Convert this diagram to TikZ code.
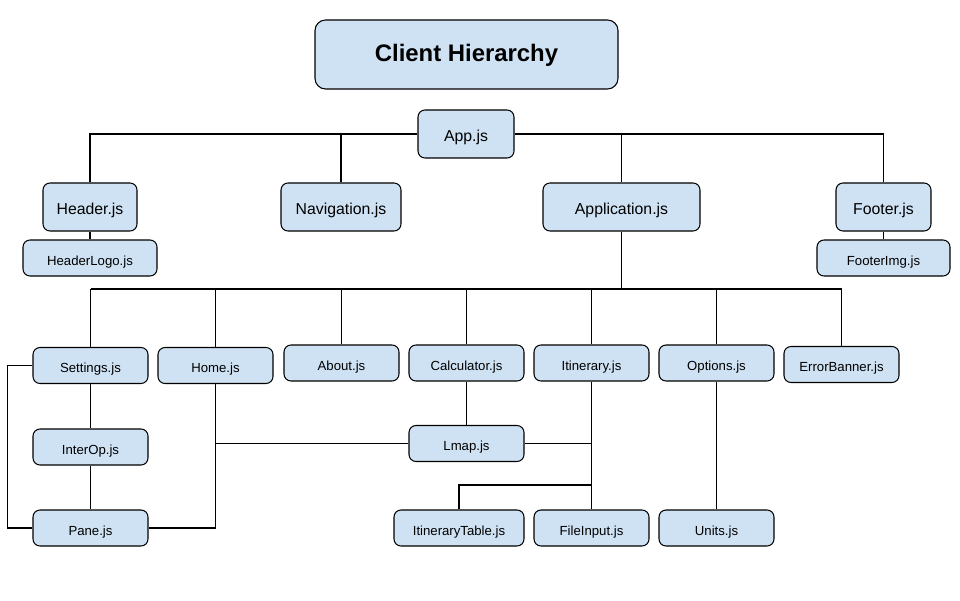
\documentclass[tikz,border=0pt]{standalone}
\usepackage{fontspec}
\setmainfont{Liberation Sans}
\usepackage{tikz}
\usepackage{xcolor}
\definecolor{boxblue}{RGB}{207,226,243}
\tikzset{box/.style={draw=black, fill=boxblue, rounded corners=4pt, line width=0.6pt, inner sep=0pt, text height=1em, text depth=0.2em},
 bigbox/.style={box, minimum height=0.96cm, font=\fontsize{9}{11}\selectfont},
 smallbox/.style={box, minimum width=2.3cm, minimum height=0.72cm, font=\fontsize{7.5}{9}\selectfont},
 titlebox/.style={box, rounded corners=6pt, minimum width=6.06cm, minimum height=1.38cm, font=\fontsize{13.6}{16}\selectfont\bfseries},
 wire/.style={draw=black, line width=0.6pt},
 }

\begin{document}
\begin{tikzpicture}
        \useasboundingbox (0, 0) rectangle (19.2, 12);
        \node [titlebox] (title) at (9.33, 10.91) {Client Hierarchy};
        % top level
        \node [bigbox, minimum width=1.92cm] (app) at (9.32, 9.32) {App.js};
        \node [bigbox, minimum width=1.88cm] (header) at (1.8, 7.86) {Header.js};
        \node [bigbox, minimum width=2.4cm] (nav) at (6.82, 7.86) {Navigation.js};
        \node [bigbox, minimum width=3.14cm] (application) at (12.43, 7.86) {Application.js};
        \node [bigbox, minimum width=1.9cm] (footer) at (17.67, 7.86) {Footer.js};
        \node [smallbox, minimum width=2.68cm] (headerlogo) at (1.8, 6.84) {HeaderLogo.js};
        \node [smallbox, minimum width=2.66cm] (footerimg) at (17.67, 6.84) {FooterImg.js};
        % pages
        \node [smallbox] (settings) at (1.81, 4.69) {Settings.js};
        \node [smallbox] (home) at (4.31, 4.69) {Home.js};
        \node [smallbox] (about) at (6.83, 4.74) {About.js};
        \node [smallbox] (calc) at (9.33, 4.74) {Calculator.js};
        \node [smallbox] (itin) at (11.83, 4.74) {Itinerary.js};
        \node [smallbox] (options) at (14.33, 4.74) {Options.js};
        \node [smallbox] (error) at (16.83, 4.71) {ErrorBanner.js};
        % leaves
        \node [smallbox] (interop) at (1.81, 3.06) {InterOp.js};
        \node [smallbox] (lmap) at (9.33, 3.13) {Lmap.js};
        \node [smallbox] (pane) at (1.81, 1.44) {Pane.js};
        \node [smallbox, minimum width=2.6cm] (itintable) at (9.18, 1.44) {ItineraryTable.js};
        \node [smallbox] (fileinput) at (11.83, 1.44) {FileInput.js};
        \node [smallbox] (units) at (14.33, 1.44) {Units.js};
        \coordinate (bus) at (12.43, 6.22);
        \coordinate (split) at (11.83, 2.3);
        % connectors
        \draw [wire] (app.west) -| (header.north);
        \draw [wire] (nav.north) -- (nav.north |- app.west);
        \draw [wire] (app.east) -| (application.north);
        \draw [wire] (application.north |- app.east) -| (footer.north);
        \draw [wire] (header.south) -- (headerlogo.north);
        \draw [wire] (footer.south) -- (footerimg.north);
        \draw [wire] (application.south) -- (bus);
        \draw [wire] (bus -| settings.north) -- (bus -| error.north);
        \foreach \n in {settings, home, about, calc, itin, options, error}
            \draw [wire] (\n.north) -- (\n.north |- bus);
        \draw [wire] (settings.south) -- (interop.north);
        \draw [wire] (interop.south) -- (pane.north);
        \draw [wire] (settings.west) -- ++(-0.5, 0) |- (pane.west);
        \draw [wire] (home.south) |- (pane.east);
        \draw [wire] (lmap.west) -- (lmap.west -| home.south);
        \draw [wire] (calc.south) -- (lmap.north);
        \draw [wire] (itin.south) -- (fileinput.north);
        \draw [wire] (lmap.east) -- (lmap.east -| itin.south);
        \draw [wire] (itintable.north) |- (split);
        \draw [wire] (options.south) -- (units.north);
    \end{tikzpicture}
\end{document}
